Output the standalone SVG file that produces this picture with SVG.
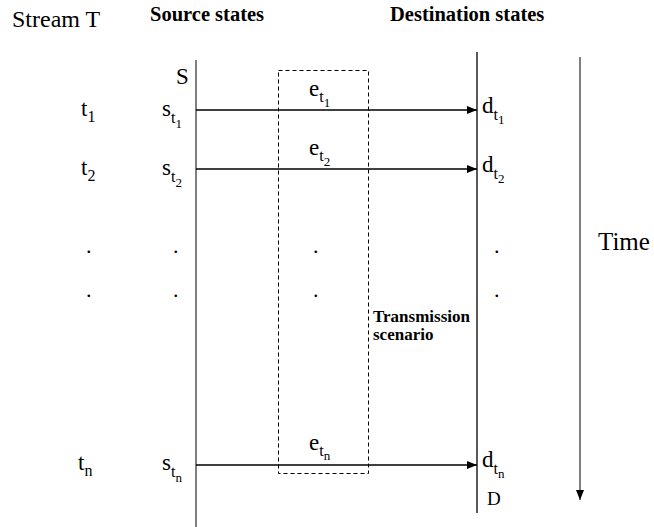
<svg xmlns="http://www.w3.org/2000/svg" width="654" height="527" viewBox="0 0 654 527">
<style>
text{font-family:"Liberation Serif","Times New Roman",serif;fill:#000}
.h{font-size:24px}
.b{font-size:20.5px;font-weight:bold}
.l{font-size:23px}
.s1{font-size:16px}
.s2{font-size:13px}
.dot{font-size:22px}
.tr{font-size:17px;font-weight:bold}
.conn{stroke:#000;stroke-width:1.5;fill:none}
</style>
<defs>
<marker id="ah" markerWidth="10" markerHeight="8" refX="10" refY="4" orient="auto" markerUnits="userSpaceOnUse">
<path d="M0,0 L10,4 L0,8 z" fill="#000"/>
</marker>
</defs>
<rect width="654" height="527" fill="#fff"/>
<g id="headers">
<text class="h" x="12" y="27">Stream T</text>
<text class="b" x="150" y="21">Source states</text>
<text class="b" x="390" y="21">Destination states</text>
</g>
<g id="source-line">
<line x1="196" y1="60" x2="196" y2="527" stroke="#7f7f7f" stroke-width="2"/>
<text class="l" x="176" y="84" font-size="21">S</text>
</g>
<g id="dest-line">
<line x1="477" y1="52" x2="477" y2="513" stroke="#000" stroke-width="1.3"/>
<text x="487" y="505" font-size="19">D</text>
</g>
<g id="scenario">
<rect x="278.5" y="70.5" width="90" height="403" fill="none" stroke="#000" stroke-width="1" stroke-dasharray="4,3"/>
<text class="tr" x="373" y="322">Transmission</text>
<text class="tr" x="373" y="340">scenario</text>
</g>
<g id="time">
<line x1="580" y1="57" x2="580" y2="500" stroke="#7f7f7f" stroke-width="2" marker-end="url(#ah)"/>
<text x="598" y="250" font-size="25">Time</text>
</g>
<g id="row1">
<text class="l" x="81" y="116">t<tspan class="s1" dy="6">1</tspan></text>
<text class="l" x="162" y="116">s<tspan class="s1" dy="7">t</tspan><tspan class="s2" dy="5">1</tspan></text>
<text class="l" x="309" y="96">e<tspan class="s1" dy="6">t</tspan><tspan class="s2" dy="5">1</tspan></text>
<text class="l" x="482" y="113">d<tspan class="s1" dy="7">t</tspan><tspan class="s2" dy="4">1</tspan></text>
</g>
<g id="row2">
<text class="l" x="81" y="175">t<tspan class="s1" dy="6">2</tspan></text>
<text class="l" x="162" y="175">s<tspan class="s1" dy="7">t</tspan><tspan class="s2" dy="5">2</tspan></text>
<text class="l" x="309" y="155">e<tspan class="s1" dy="6">t</tspan><tspan class="s2" dy="5">2</tspan></text>
<text class="l" x="482" y="172">d<tspan class="s1" dy="7">t</tspan><tspan class="s2" dy="4">2</tspan></text>
</g>
<g id="dots">
<text class="dot" x="86" y="253">.</text>
<text class="dot" x="173" y="253">.</text>
<text class="dot" x="313" y="253">.</text>
<text class="dot" x="494" y="253">.</text>
<text class="dot" x="86" y="297">.</text>
<text class="dot" x="173" y="297">.</text>
<text class="dot" x="313" y="297">.</text>
<text class="dot" x="494" y="297">.</text>
</g>
<g id="rown">
<text class="l" x="78" y="470">t<tspan class="s1" dy="6">n</tspan></text>
<text class="l" x="162" y="470">s<tspan class="s1" dy="7">t</tspan><tspan class="s2" dy="5">n</tspan></text>
<text class="l" x="309" y="450">e<tspan class="s1" dy="6">t</tspan><tspan class="s2" dy="4">n</tspan></text>
<text class="l" x="482" y="467">d<tspan class="s1" dy="7">t</tspan><tspan class="s2" dy="4">n</tspan></text>
</g>
<g id="connectors">
<line class="conn" x1="196" y1="110" x2="477" y2="110" marker-end="url(#ah)"/>
<line class="conn" x1="196" y1="169" x2="477" y2="169" marker-end="url(#ah)"/>
<line class="conn" x1="196" y1="465" x2="477" y2="465" marker-end="url(#ah)" stroke="#6a6a6a" stroke-width="2"/>
</g>
</svg>
